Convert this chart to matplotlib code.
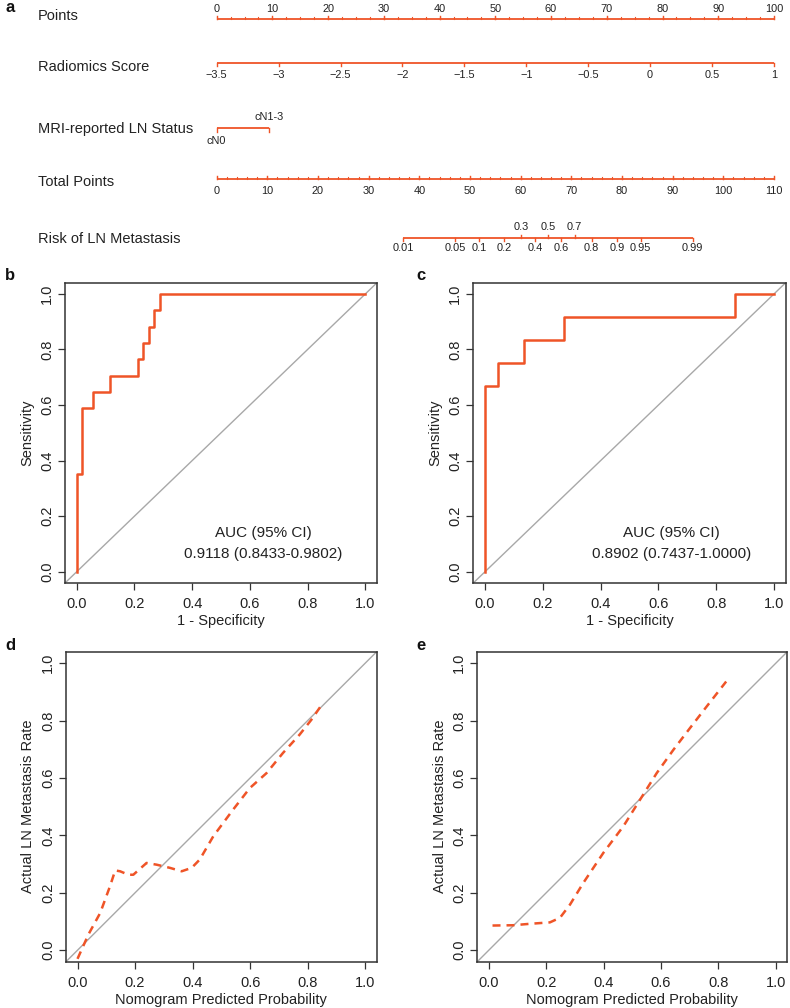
import numpy as np
import matplotlib
matplotlib.use("Agg")
import matplotlib.pyplot as plt

plt.rcParams['font.family'] = ['Liberation Sans', 'DejaVu Sans']
plt.rcParams['axes.unicode_minus'] = True

# ---------------- data ----------------
points_ticks = [0, 10, 20, 30, 40, 50, 60, 70, 80, 90, 100]
radiomics_ticks = [-3.5, -3, -2.5, -2, -1.5, -1, -0.5, 0, 0.5, 1]
radiomics_labels = ['\u22123.5', '\u22123', '\u22122.5', '\u22122', '\u22121.5', '\u22121', '\u22120.5', '0', '0.5', '1']
mri_levels = ['cN0', 'cN1-3']
mri_points = [0, 9.4]
total_ticks = [0, 10, 20, 30, 40, 50, 60, 70, 80, 90, 100, 110]
risk_ticks = [0.01, 0.05, 0.1, 0.2, 0.3, 0.4, 0.5, 0.6, 0.7, 0.8, 0.9, 0.95, 0.99]
risk_labels = ['0.01', '0.05', '0.1', '0.2', '0.3', '0.4', '0.5', '0.6', '0.7', '0.8', '0.9', '0.95', '0.99']
risk_above = [0.3, 0.5, 0.7]
total_at_logit0 = 65.4      # total points at predicted risk 0.5
total_per_logit = 6.21      # total points per unit of linear predictor

# ROC training (b)
fpr_b = [0, 0, 0.019, 0.058, 0.115, 0.212, 0.231, 0.250, 0.269, 0.288, 1.0]
tpr_b = [0, 0.353, 0.588, 0.647, 0.706, 0.765, 0.824, 0.882, 0.941, 1.0, 1.0]
auc_b = ['AUC (95% CI)', '0.9118 (0.8433-0.9802)']
# ROC validation (c)
fpr_c = [0, 0, 0.045, 0.136, 0.273, 0.864, 1.0]
tpr_c = [0, 0.667, 0.750, 0.833, 0.917, 1.0, 1.0]
auc_c = ['AUC (95% CI)', '0.8902 (0.7437-1.0000)']

# Calibration training (d)
cal_pred_d = [0.0, 0.038, 0.079, 0.113, 0.131, 0.148, 0.177, 0.194, 0.240, 0.275, 0.321,
              0.362, 0.397, 0.425, 0.472, 0.541, 0.599, 0.657, 0.714, 0.772, 0.813, 0.853]
cal_obs_d = [-0.03, 0.055, 0.130, 0.223, 0.278, 0.275, 0.263, 0.263, 0.304, 0.298, 0.287,
             0.275, 0.287, 0.316, 0.397, 0.490, 0.565, 0.617, 0.687, 0.751, 0.803, 0.861]
# Calibration validation (e)
cal_pred_e = [0.013, 0.085, 0.143, 0.213, 0.248, 0.283, 0.329, 0.399, 0.469, 0.538,
              0.585, 0.643, 0.701, 0.759, 0.827]
cal_obs_e = [0.086, 0.087, 0.092, 0.097, 0.113, 0.159, 0.234, 0.339, 0.432, 0.542,
             0.617, 0.698, 0.774, 0.849, 0.936]

# ---------------- style ----------------
ORANGE = '#EF5427'
GREY = '#A8A8A8'
W, H = 790, 1008
fig = plt.figure(figsize=(W / 100, H / 100), dpi=100)

# ---------------- nomogram (a) ----------------
top_h = 262
axn = fig.add_axes([0, 1 - top_h / H, 1, top_h / H])
x0_px, x100_px = 216.7, 774.0
ppp = (x100_px - x0_px) / 100.0
axn.set_xlim(-x0_px / ppp, (W - x0_px) / ppp)
axn.set_ylim(top_h, 0)
axn.axis('off')

def scale(y, pos, labels, label_dy, tick_dir, minor=None, tick_len=3.2, above=None, above_dy=None):
    axn.plot([min(pos), max(pos)], [y, y], color=ORANGE, lw=1.3, solid_capstyle='butt')
    for i, (p, lab) in enumerate(zip(pos, labels)):
        up = above is not None and above[i]
        d = -tick_dir if up else tick_dir
        axn.plot([p, p], [y, y + d * tick_len], color=ORANGE, lw=1.0)
        ly = y + (above_dy if up else label_dy)
        axn.text(p, ly, lab, ha='center', va='center', fontsize=7.9, color='#222222')
    if minor is not None:
        for p in minor:
            axn.plot([p, p], [y, y + tick_dir * tick_len * 0.5], color=ORANGE, lw=0.8)

label_x = 38
name_kw = dict(ha='left', va='center', fontsize=10.5, color='#222222',
               transform=matplotlib.transforms.blended_transform_factory(fig.transFigure, axn.transData))
axn.text(label_x / W, 16, 'Points', **name_kw)
axn.text(label_x / W, 66.7, 'Radiomics Score', **name_kw)
axn.text(label_x / W, 128.5, 'MRI-reported LN Status', **name_kw)
axn.text(label_x / W, 181.7, 'Total Points', **name_kw)
axn.text(label_x / W, 239, 'Risk of LN Metastasis', **name_kw)

# Points
scale(19, points_ticks, [str(t) for t in points_ticks], -9.5, -1,
      minor=np.arange(0, 100.01, 2.5))
# Radiomics score -> points
rad_min, rad_max = min(radiomics_ticks), max(radiomics_ticks)
rad_pos = [(r - rad_min) / (rad_max - rad_min) * 100 for r in radiomics_ticks]
scale(62.7, rad_pos, radiomics_labels, 12.3, 1)
# MRI status
scale(128.3, mri_points, ['', ''], 0, 1)
axn.text(mri_points[0], 140.7, mri_levels[0], ha='center', va='center', fontsize=7.9, color='#222222')
axn.text(mri_points[1], 116.7, mri_levels[1], ha='center', va='center', fontsize=7.9, color='#222222')
# Total points (scaled onto the 0-100 points axis)
tmax = max(total_ticks)
tot_pos = [t / tmax * 100 for t in total_ticks]
scale(179, tot_pos, [str(t) for t in total_ticks], 12.5, -1,
      minor=[t / tmax * 100 for t in np.arange(0, tmax + 0.01, 2)])
# Risk
risk_pos = [(total_at_logit0 + total_per_logit * np.log(r / (1 - r))) / tmax * 100 for r in risk_ticks]
scale(237.7, risk_pos, risk_labels, 10, 1, above=[r in risk_above for r in risk_ticks], above_dy=-10.5)

# ---------------- panels ----------------
def fig_rect(x1, y1, x2, y2):
    return [x1 / W, 1 - y2 / H, (x2 - x1) / W, (y2 - y1) / H]

def style_axes(ax, xlabel, ylabel):
    ax.set_xlim(-0.04, 1.04)
    ax.set_ylim(-0.04, 1.04)
    ticks = [0, 0.2, 0.4, 0.6, 0.8, 1.0]
    ax.set_xticks(ticks)
    ax.set_yticks(ticks)
    ax.set_xticklabels(['%.1f' % t for t in ticks], fontsize=10.5)
    ax.set_yticklabels(['%.1f' % t for t in ticks], fontsize=10.5, rotation=90, va='center')
    ax.tick_params(direction='out', length=5, width=0.9, color='#333333', labelcolor='#222222')
    ax.tick_params(axis='x', pad=5)
    ax.tick_params(axis='y', pad=3)
    for s in ax.spines.values():
        s.set_linewidth(1.1)
        s.set_color('#333333')
    ax.set_xlabel(xlabel, fontsize=10.5, labelpad=2.5, color='#222222')
    ax.set_ylabel(ylabel, fontsize=10.5, labelpad=4, color='#222222')
    ax.plot([-0.04, 1.04], [-0.04, 1.04], color=GREY, lw=1.0, zorder=1)

axb = fig.add_axes(fig_rect(65, 282.7, 377, 583))
axc = fig.add_axes(fig_rect(473.3, 282.7, 785.7, 583))
axd = fig.add_axes(fig_rect(66, 651.7, 376.7, 961.7))
axe = fig.add_axes(fig_rect(477.3, 651.7, 787.3, 961.7))

for ax, f, t, auc in [(axb, fpr_b, tpr_b, auc_b), (axc, fpr_c, tpr_c, auc_c)]:
    style_axes(ax, '1 - Specificity', 'Sensitivity')
    ax.plot(f, t, drawstyle='steps-post', color=ORANGE, lw=1.8, zorder=3)
    ax.text(0.646, 0.141, auc[0], ha='center', va='center', fontsize=11, color='#222222')
    ax.text(0.646, 0.063, auc[1], ha='center', va='center', fontsize=11, color='#222222')

for ax, xp, yo in [(axd, cal_pred_d, cal_obs_d), (axe, cal_pred_e, cal_obs_e)]:
    style_axes(ax, 'Nomogram Predicted Probability', 'Actual LN Metastasis Rate')
    ax.plot(xp, yo, color=ORANGE, lw=1.8, dashes=(3.2, 2.4), zorder=3)

# panel letters
for lab, x, y in [('a', 5, 8), ('b', 5, 276), ('c', 416, 276), ('d', 5, 645), ('e', 416, 645)]:
    fig.text(x / W, 1 - y / H, lab, fontsize=12, fontweight='bold', ha='left', va='center', color='#111111')

fig.savefig('out.png', dpi=100)
